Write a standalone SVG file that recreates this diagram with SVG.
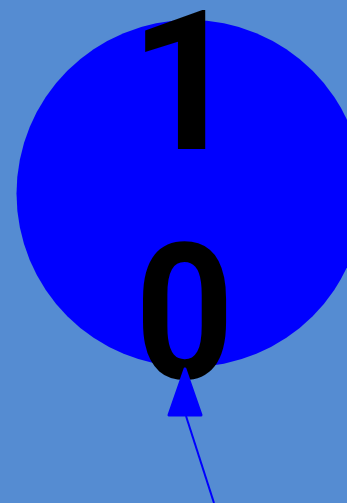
<svg xmlns="http://www.w3.org/2000/svg" width="347" height="503" viewBox="0 0 347 503">
<style>
.num{font-family:Roboto,"Liberation Sans",Arial,sans-serif;font-weight:bold;font-size:194px;fill:#000;text-anchor:middle}
.conn{stroke:#0000ff;stroke-width:2;fill:none}
.head{fill:#0000ff;stroke:#0000ff;stroke-width:3;stroke-linejoin:round}
</style>
<rect width="347" height="503" fill="#558cd2"/>
<g id="node-circle">
<circle cx="190" cy="193.5" r="173.5" fill="#0000ff"/>
</g>
<g id="node-1"><text class="num" x="185" y="149">1</text></g>
<g id="node-0"><text class="num" transform="translate(184.5 378) scale(0.89 0.98)" x="0" y="0">0</text></g>
<g id="connectors">
<line class="conn" x1="214" y1="503" x2="186" y2="416"/>
<polygon class="head" points="185,369 169,415 201,415"/>
</g>
</svg>
